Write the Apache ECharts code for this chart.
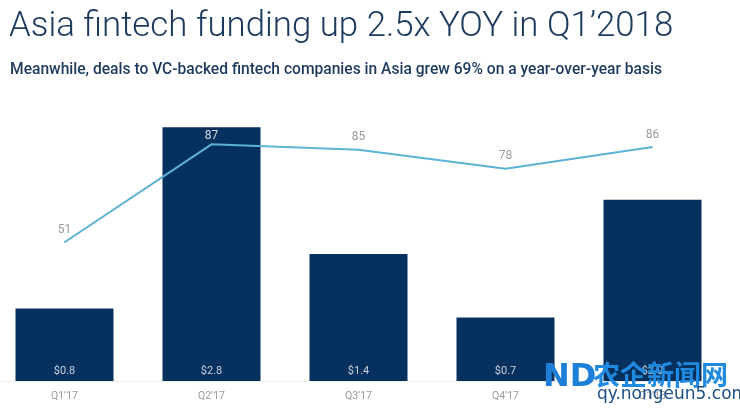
<!DOCTYPE html>
<html><head><meta charset="utf-8">
<script src="https://cdn.jsdelivr.net/npm/echarts@6/dist/echarts.min.js"></script>
<style>html,body{margin:0;padding:0;background:#fff;overflow:hidden}#c{width:749px;height:411px;margin-left:-9px}</style>
</head><body><div id="c"></div>
<script>
const categories = ["Q1’17", "Q2’17", "Q3’17", "Q4’17", "Q1’18"];
const funding = [0.8, 2.8, 1.4, 0.7, 2.0];
const deals = [51, 87, 85, 78, 86];

const chart = echarts.init(document.getElementById('c'));
chart.setOption({
  animation: false,
  backgroundColor: '#fff',
  title: [{
    text: 'Asia fintech funding up 2.5x YOY in Q1’2018',
    left: 13, top: 5,
    textStyle: {fontFamily: 'Roboto', fontWeight: 300, fontSize: 34.8, color: '#1d3a5e'}
  }, {
    text: 'Meanwhile, deals to VC-backed fintech companies in Asia grew 69% on a year-over-year basis',
    left: 14, top: 57,
    textStyle: {fontFamily: 'Roboto', fontWeight: 500, fontSize: 15.6, color: '#1d3a5e'}
  }],
  grid: {left: 0, right: 14, top: 109, bottom: 30, containLabel: false},
  xAxis: {
    type: 'category', data: categories,
    axisLine: {show: true, lineStyle: {color: '#eeeeee'}},
    axisTick: {show: false},
    axisLabel: {color: '#9a9a9a', fontSize: 10.5, fontFamily: 'Roboto', margin: 10}
  },
  yAxis: [
    {type: 'value', min: 0, max: 3, show: false, splitLine: {show: false}},
    {type: 'value', min: 0, max: 100, show: false, splitLine: {show: false}}
  ],
  series: [{
    type: 'bar', data: funding, yAxisIndex: 0, barWidth: 98,
    itemStyle: {color: '#06315f'},
    label: {show: true, position: 'insideBottom', distance: 4,
      formatter: p => '$' + p.value.toFixed(1),
      color: '#c9d2de', fontSize: 11, fontFamily: 'Roboto'}
  }, {
    type: 'line', yAxisIndex: 1,
    data: deals.map((v, i) => i === 1
      ? {value: v, label: {color: '#d6dce6', distance: 2}}
      : v),
    symbol: 'circle', symbolSize: 1, showSymbol: true,
    itemStyle: {color: '#5cb3d5'},
    lineStyle: {color: '#5cb3d5', width: 2},
    label: {show: true, position: 'top', distance: 6, color: '#9a9a9a', fontSize: 12, fontFamily: 'Roboto'},
    z: 5
  }],
  graphic: [
    {type: 'text', left: 552, top: 362, z: 100,
      style: {text: 'ND', fontSize: 32, fontWeight: 'bold', fontFamily: 'DejaVu Sans', fill: '#1e7fd8'}},
    {type: 'text', left: 602, top: 361, z: 100,
      style: {text: '农企新闻网', fontSize: 27, fontWeight: 'bold', fontFamily: 'Noto Sans CJK SC', fill: '#1f8ae0'}},
    {type: 'text', left: 606, top: 386, z: 100,
      style: {text: 'qy.nongeun5.com', fontSize: 17, fontFamily: 'DejaVu Sans', fill: '#1b4f86'}}
  ]
});
</script></body></html>
